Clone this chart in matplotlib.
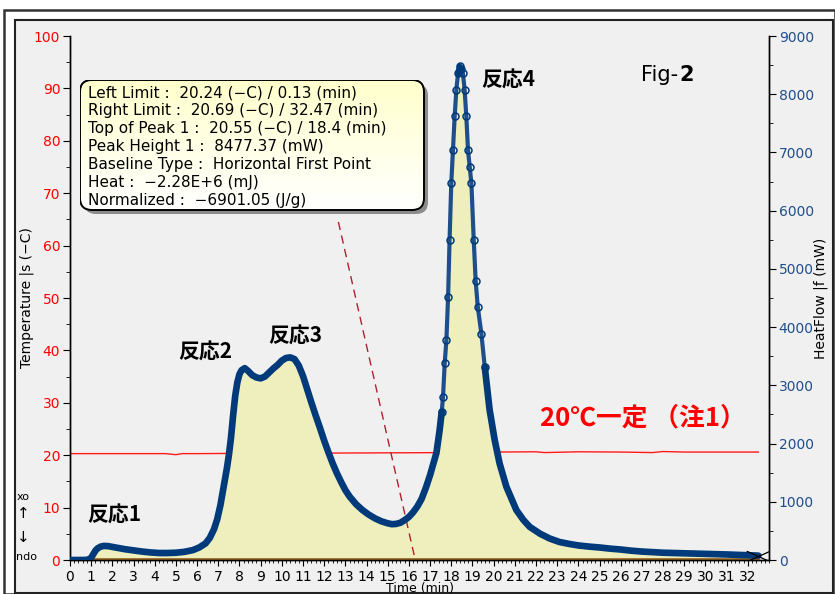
import matplotlib
matplotlib.use("Agg")
import matplotlib.pyplot as plt
from matplotlib.patches import FancyBboxPatch, Rectangle
from matplotlib.path import Path
from matplotlib.colors import LinearSegmentedColormap
from matplotlib.ticker import MultipleLocator
import numpy as np

plt.rcParams['font.family'] = ['DejaVu Sans', 'Noto Sans CJK JP']

# heat flow trace (mW)
time_min = [0.0, 0.3, 0.6, 0.9, 1.0, 1.1, 1.2, 1.3, 1.45, 1.6, 1.8, 2.0, 2.3, 2.6, 3.0,
            3.4, 3.8, 4.2, 4.6, 5.0, 5.4, 5.8, 6.1, 6.4, 6.6, 6.8, 6.95, 7.1, 7.2, 7.3,
            7.4, 7.5, 7.6, 7.7, 7.8, 7.9, 8.0, 8.1, 8.25, 8.4, 8.6, 8.8, 9.0, 9.2, 9.4,
            9.6, 9.8, 10.0, 10.2, 10.4, 10.6, 10.8, 11.0, 11.2, 11.4, 11.6, 11.8, 12.0,
            12.2, 12.4, 12.6, 12.8, 13.0, 13.2, 13.5, 13.8, 14.1, 14.4, 14.7, 15.0, 15.2,
            15.4, 15.6, 15.8, 16.0, 16.2, 16.4, 16.6, 16.8, 17.0, 17.15, 17.3, 17.45,
            17.55, 17.61, 17.69, 17.77, 17.85, 17.92, 18.0, 18.08, 18.16, 18.24, 18.32,
            18.4, 18.48, 18.55, 18.63, 18.71, 18.79, 18.87, 18.95, 19.06, 19.15, 19.25,
            19.42, 19.58, 19.7, 19.81, 20.05, 20.28, 20.6, 21.07, 21.4, 21.7, 22.2, 22.64,
            23.1, 23.58, 24.0, 24.53, 25.0, 25.5, 26.0, 26.5, 27.0, 27.5, 28.0, 28.5,
            29.0, 29.5, 30.0, 30.5, 31.0, 31.5, 32.0, 32.5]
heat_flow = [0, 0, 0, 5, 40, 100, 160, 200, 230, 242, 238, 225, 205, 185, 165,
             145, 130, 120, 120, 125, 140, 170, 215, 285, 380, 530, 700, 940, 1150, 1350,
             1560, 1800, 2100, 2480, 2820, 3050, 3190, 3260, 3295, 3250, 3175, 3135, 3120,
             3150, 3220, 3290, 3350, 3425, 3470, 3480, 3450, 3340, 3160, 2930, 2700, 2480,
             2270, 2050, 1850, 1660, 1490, 1340, 1200, 1090, 960, 860, 780, 715, 665, 630,
             615, 620, 640, 685, 740, 820, 920, 1050, 1240, 1460, 1650, 1840, 2230,
             2550, 2800, 3380, 3780, 4520, 5500, 6470, 7040, 7620, 8080, 8360,
             8477, 8430, 8360, 8080, 7620, 7040, 6750, 6470, 5500, 4800, 4350,
             3890, 3320, 2940, 2580, 2060, 1660, 1260, 860, 690, 570, 450, 370,
             310, 275, 250, 229, 215, 195, 180, 160, 145, 135, 125, 120,
             115, 110, 105, 100, 95, 88, 80, 75]

# sample temperature (C), held near 20
temp_time = [0.0, 2.0, 4.5, 5.0, 5.3, 6.0, 8.0, 12.0, 15.0, 18.0, 20.0, 22.0, 22.4,
             24.0, 26.0, 27.5, 28.0, 29.0, 30.0, 32.5]
temp_c = [20.3, 20.3, 20.3, 20.1, 20.3, 20.3, 20.35, 20.4, 20.45, 20.5, 20.6, 20.65,
          20.5, 20.65, 20.6, 20.5, 20.7, 20.6, 20.6, 20.6]

box_lines = [
    "Left Limit :  20.24 (\u2212C) / 0.13 (min)",
    "Right Limit :  20.69 (\u2212C) / 32.47 (min)",
    "Top of Peak 1 :  20.55 (\u2212C) / 18.4 (min)",
    "Peak Height 1 :  8477.37 (mW)",
    "Baseline Type :  Horizontal First Point",
    "Heat :  \u22122.28E+6 (mJ)",
    "Normalized :  \u22126901.05 (J/g)",
]

# leader line from the box down to the baseline (time, mW)
leader_time = [12.67, 16.3]
leader_hf = [5807, 0]

W, H = 835, 594


def fx(x):
    return x / W


def fy(y):
    return 1 - y / H


fig = plt.figure(figsize=(W / 100, H / 100), dpi=100)
fig.patch.set_facecolor('white')

# window frames
fig.patches.append(Rectangle((fx(4), fy(594)), fx(835) - fx(4), fy(10) - fy(594),
                             transform=fig.transFigure, fill=False, ec='#333333', lw=1.8,
                             zorder=-2))
fig.patches.append(Rectangle((fx(15), fy(593)), fx(833) - fx(15), fy(20) - fy(593),
                             transform=fig.transFigure, fc='#f0f0f0', ec='#222222', lw=1.5,
                             zorder=-1))

ax = fig.add_axes([fx(70), fy(560), fx(769) - fx(70), fy(36) - fy(560)])
ax.patch.set_visible(False)
ax2 = ax.twinx()

ax.plot(temp_time, temp_c, color='#ff1a1a', lw=1.0, zorder=1)
ax.set_ylim(0, 100)
ax.set_xlim(0, 33)

t_arr = np.array(time_min)
hf_arr = np.array(heat_flow)
navy = '#003a7a'

ax2.fill_between(time_min, heat_flow, 0, color='#efefbd', lw=0, zorder=1)
ax2.plot([time_min[0], time_min[-1]], [0, 0], color='#8a5a1c', lw=2.6, zorder=2)
ax2.plot(leader_time, leader_hf, color='#b02030', lw=1.0, ls=(0, (6, 4)), zorder=3)

# steep flanks of peak 4: sparse open circles on a lighter band
steep = (t_arr >= 17.55) & (t_arr <= 19.58)
ax2.plot(np.where(steep, t_arr, np.nan), hf_arr, color='#1e4f8c', lw=3.0, zorder=4,
         marker='o', ms=5, mfc='none', mec=navy, mew=1.1)
# everywhere else the points merge into a thick band
ax2.plot(np.where(t_arr <= 17.55, t_arr, np.nan), hf_arr, color=navy, lw=4.8, zorder=4,
         solid_capstyle='round')
ax2.plot(np.where(t_arr >= 19.58, t_arr, np.nan), hf_arr, color=navy, lw=4.8, zorder=4,
         solid_capstyle='round')
ax2.plot(np.where((t_arr >= 18.3) & (t_arr <= 18.5), t_arr, np.nan), hf_arr, color=navy,
         lw=4.2, zorder=4, solid_capstyle='round')

x_marker = Path([(-1, -0.45), (1, 0.45), (-1, 0.45), (1, -0.45)],
                [Path.MOVETO, Path.LINETO, Path.MOVETO, Path.LINETO])
ax2.plot(time_min[-1], heat_flow[-1], marker=x_marker, ms=17, mec='black', mew=0.9,
         ls='none', zorder=5)
ax2.set_ylim(0, 9000)

for a in (ax, ax2):
    a.spines['top'].set_visible(False)
    for s in a.spines.values():
        s.set_linewidth(1.0)

ax.set_xticks(range(0, 33))
ax.xaxis.set_minor_locator(MultipleLocator(0.2))
ax.yaxis.set_major_locator(MultipleLocator(10))
ax.yaxis.set_minor_locator(MultipleLocator(5))
ax2.yaxis.set_major_locator(MultipleLocator(1000))
ax2.yaxis.set_minor_locator(MultipleLocator(500))

ax.tick_params(axis='x', which='major', length=4, width=0.8, labelsize=10, pad=3)
ax.tick_params(axis='x', which='minor', length=2.5, width=0.6)
ax.tick_params(axis='y', which='major', length=5, width=0.8, labelsize=10,
               labelcolor='#ff0000', pad=2)
ax.tick_params(axis='y', which='minor', length=3, width=0.6)
ax2.tick_params(axis='y', which='major', length=5, width=0.8, labelsize=10,
                labelcolor='#1f4e8c', pad=2)
ax2.tick_params(axis='y', which='minor', length=3, width=0.6)

ax.set_xlabel('Time (min)', fontsize=9, labelpad=-1)
ax.set_ylabel('Temperature |s (\u2212C)', fontsize=10, labelpad=0)
ax2.set_ylabel('HeatFlow |f (mW)', fontsize=10, labelpad=0)

# exo / endo hints
fig.text(fx(17), fy(497), 'xo', fontsize=8, va='center')
fig.text(fx(17), fy(514), '\u2191', fontsize=11, va='center')
fig.text(fx(17), fy(537), '\u2193', fontsize=11, va='center')
fig.text(fx(16), fy(557), 'ndo', fontsize=8, va='center')

cjk = ['Noto Sans CJK JP', 'DejaVu Sans']
fig.text(fx(87), fy(515), '反応1', fontsize=15, fontweight='bold', family=cjk, va='center')
fig.text(fx(178), fy(352), '反応2', fontsize=15, fontweight='bold', family=cjk, va='center')
fig.text(fx(268), fy(336), '反応3', fontsize=15, fontweight='bold', family=cjk, va='center')
fig.text(fx(481), fy(80), '反応4', fontsize=15, fontweight='bold', family=cjk, va='center')
fig.text(fx(540), fy(418), '20℃一定 （注1）', fontsize=18.5, fontweight='bold',
         color='#ff0000', family=cjk, va='center')
fig.text(fx(641), fy(75), 'Fig-', fontsize=15, va='center')
fig.text(fx(679), fy(75), '2', fontsize=15, fontweight='bold', va='center')

# info box with gradient fill and shadow
bx0, by0, bx1, by1 = 80, 80, 424, 210
bw, bh = bx1 - bx0, by1 - by0
axb = fig.add_axes([fx(bx0), fy(by1 + 5), fx(bx1 + 5) - fx(bx0), fy(by0) - fy(by1 + 5)])
axb.set_xlim(0, bw + 5)
axb.set_ylim(-5, bh)
axb.axis('off')
shadow = FancyBboxPatch((4, -4), bw, bh, boxstyle='round,pad=0,rounding_size=12',
                        fc='#8c8c8c', ec='none', zorder=1)
axb.add_patch(shadow)
frame = FancyBboxPatch((0, 0), bw, bh, boxstyle='round,pad=0,rounding_size=12',
                       fc='none', ec='black', lw=1.4, zorder=3)
axb.add_patch(frame)
grad_cmap = LinearSegmentedColormap.from_list('boxgrad', ['#ffffff', '#ffffcc'])
grad = np.linspace(0, 1, 64).reshape(-1, 1)
img = axb.imshow(grad, extent=(0, bw, 0, bh), origin='lower', cmap=grad_cmap,
                 aspect='auto', zorder=2)
img.set_clip_path(frame)
for i, line in enumerate(box_lines):
    axb.text(8, bh - 12.7 - 18 * i, line, fontsize=11, va='center', zorder=4)

fig.savefig('out.png', dpi=100)
